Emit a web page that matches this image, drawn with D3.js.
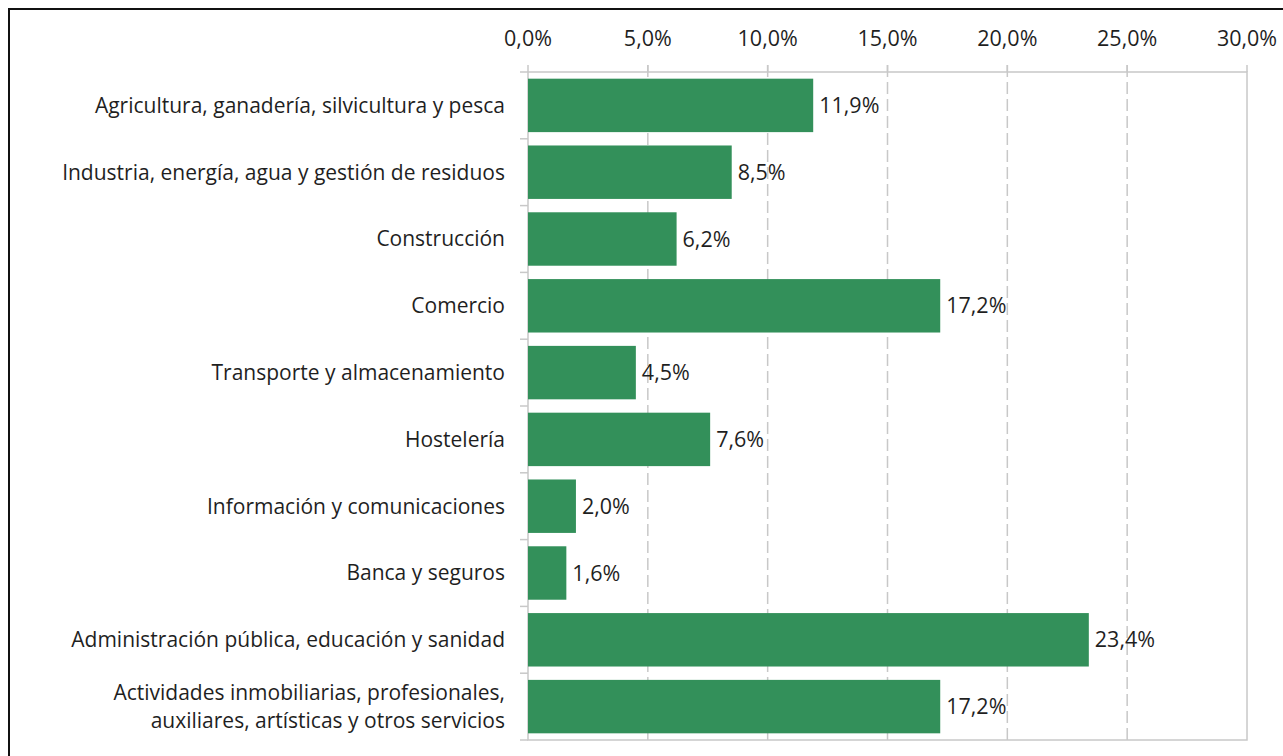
<!DOCTYPE html>
<html>
<head>
<meta charset="utf-8">
<script src="https://cdn.jsdelivr.net/npm/d3@7"></script>
<style>
  body { margin: 0; background: #fff; }
  svg { display: block; font-family: "Open Sans", "Lato", sans-serif; }
  .tick-label, .val-label { fill: #1f1f1f; font-size: 21.5px; }
  .cat-label { fill: #1f1f1f; font-size: 21px; }
</style>
</head>
<body>
<div id="chart"></div>
<script>
// Ocupados por rama de actividad (%)
const categories = [
    ['Agricultura, ganadería, silvicultura y pesca'],
    ['Industria, energía, agua y gestión de residuos'],
    ['Construcción'],
    ['Comercio'],
    ['Transporte y almacenamiento'],
    ['Hostelería'],
    ['Información y comunicaciones'],
    ['Banca y seguros'],
    ['Administración pública, educación y sanidad'],
    ['Actividades inmobiliarias, profesionales,', 'auxiliares, artísticas y otros servicios']
];
const values = [11.9, 8.5, 6.2, 17.2, 4.5, 7.6, 2.0, 1.6, 23.4, 17.2];
const ticks = [0, 5, 10, 15, 20, 25, 30];

const width = 1283, height = 756;
const margin = { top: 72, right: 36, bottom: 16, left: 528 };
const innerWidth = width - margin.left - margin.right;
const innerHeight = height - margin.top - margin.bottom;

const fmt = v => v.toFixed(1).replace('.', ',') + '%';

const svg = d3.select('#chart').append('svg')
    .attr('width', width)
    .attr('height', height);

// outer frame: only left and top edges fall inside the picture
svg.append('path')
    .attr('d', `M9,${height} V9 H${width}`)
    .attr('fill', 'none')
    .attr('stroke', '#111')
    .attr('stroke-width', 2);

const g = svg.append('g')
    .attr('transform', `translate(${margin.left},${margin.top})`);

const x = d3.scaleLinear().domain([0, 30]).range([0, innerWidth]);
const y = d3.scaleBand()
    .domain(d3.range(categories.length))
    .range([0, innerHeight])
    .paddingInner(0.2)
    .paddingOuter(0.1);

const gridColor = '#c8c8c8';

// dashed gridlines
g.selectAll('.grid')
    .data(ticks.filter(t => t > 0 && t < 30))
    .enter().append('line')
    .attr('x1', d => x(d)).attr('x2', d => x(d))
    .attr('y1', -7).attr('y2', innerHeight)
    .attr('stroke', gridColor)
    .attr('stroke-width', 1.5)
    .attr('stroke-dasharray', '12,5');

// plot frame
g.append('rect')
    .attr('x', 0).attr('y', 0)
    .attr('width', innerWidth).attr('height', innerHeight)
    .attr('fill', 'none')
    .attr('stroke', gridColor)
    .attr('stroke-width', 1.5);

// top axis ticks + labels
g.selectAll('.xtick')
    .data(ticks)
    .enter().append('line')
    .attr('x1', d => x(d)).attr('x2', d => x(d))
    .attr('y1', -7).attr('y2', 0)
    .attr('stroke', gridColor)
    .attr('stroke-width', 1.5);

g.selectAll('.tick-label')
    .data(ticks)
    .enter().append('text')
    .attr('class', 'tick-label')
    .attr('x', d => x(d))
    .attr('y', -26)
    .attr('text-anchor', 'middle')
    .text(d => d.toFixed(1).replace('.', ',') + '%');

// category boundary ticks on the left axis
g.selectAll('.ytick')
    .data(d3.range(categories.length + 1))
    .enter().append('line')
    .attr('x1', -8).attr('x2', 0)
    .attr('y1', d => d * innerHeight / categories.length)
    .attr('y2', d => d * innerHeight / categories.length)
    .attr('stroke', gridColor)
    .attr('stroke-width', 1.5);

// bars
g.selectAll('.bar')
    .data(values)
    .enter().append('rect')
    .attr('class', 'bar')
    .attr('x', 0)
    .attr('y', (d, i) => y(i))
    .attr('width', d => x(d))
    .attr('height', y.bandwidth())
    .attr('fill', '#33905a');

// value labels
g.selectAll('.val-label')
    .data(values)
    .enter().append('text')
    .attr('class', 'val-label')
    .attr('x', d => x(d) + 6)
    .attr('y', (d, i) => y(i) + y.bandwidth() / 2)
    .attr('dy', '0.35em')
    .text(d => fmt(d));

// category labels (multi-line where needed)
const labels = g.selectAll('.cat-label')
    .data(categories)
    .enter().append('text')
    .attr('class', 'cat-label')
    .attr('text-anchor', 'end')
    .attr('x', -23)
    .attr('y', (d, i) => y(i) + y.bandwidth() / 2);

labels.each(function(lines) {
    const t = d3.select(this);
    const lh = 28;
    lines.forEach((line, k) => {
        t.append('tspan')
            .attr('x', -23)
            .attr('dy', k === 0 ? (0.35 * 21 - (lines.length - 1) * lh / 2) : lh)
            .text(line);
    });
});
</script>
</body>
</html>
